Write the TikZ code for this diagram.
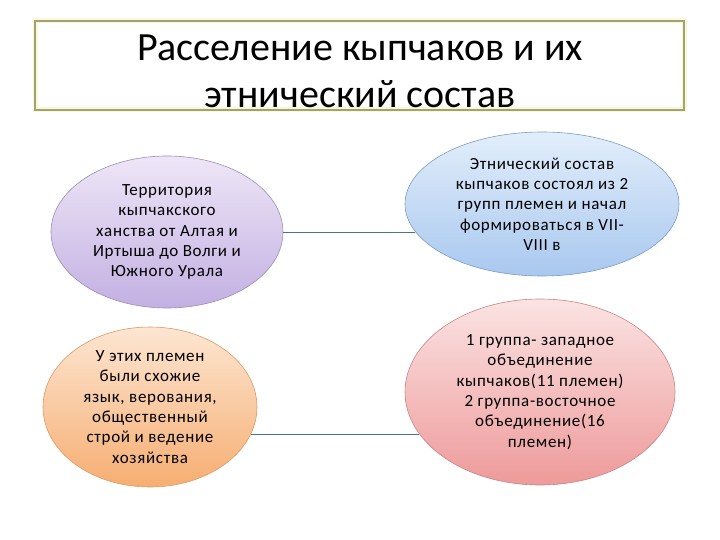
\documentclass[tikz,border=0pt]{standalone}
\usepackage{fontspec}
\setmainfont{Carlito}[LetterSpace=4]
\usepackage{tikz}
\usetikzlibrary{shapes.geometric}
\definecolor{olivebox}{HTML}{A3A46C}
\definecolor{glowbox}{HTML}{F8F8DC}
\definecolor{linkteal}{HTML}{4A7489}
\definecolor{lilacT}{HTML}{EEE6F7}
\definecolor{lilacB}{HTML}{C2B0E2}
\definecolor{lilacD}{HTML}{9C8DB4}
\definecolor{skyT}{HTML}{E2EEFB}
\definecolor{skyB}{HTML}{A9C8EF}
\definecolor{skyD}{HTML}{7C9CC4}
\definecolor{apricotT}{HTML}{FDE6D2}
\definecolor{apricotB}{HTML}{F6AE72}
\definecolor{apricotD}{HTML}{D99A66}
\definecolor{roseT}{HTML}{FBE3E3}
\definecolor{roseB}{HTML}{EE9A9A}
\definecolor{roseD}{HTML}{C98484}
\newfontfamily\titlefont{Carlito}

\begin{document}
\begin{tikzpicture}[x=1pt,y=-1pt,font=\fontsize{17}{20.3}\selectfont,
  blob/.style={ellipse,draw,line width=0.6pt,align=center,inner sep=0pt},
  link/.style={draw=linkteal,line width=0.8pt}]
\useasboundingbox (0,0) rectangle (720,540);
% title
\draw[draw=glowbox,line width=5pt] (35,21) rectangle (684,110);
\draw[draw=olivebox,line width=2.4pt] (35,21) rectangle (684,110);
\node[align=center,font=\titlefont\fontsize{40}{47}\selectfont] (title) at (360,71)
  {Расселение кыпчаков и их\\этнический состав};
% four ellipses
\node[blob,draw=lilacD,top color=lilacT,bottom color=lilacB,
  minimum width=232pt,minimum height=152pt] (terr) at (167,232)
  {Территория\\кыпчакского\\ханства от Алтая и\\Иртыша до Волги и\\Южного Урала};
\node[blob,draw=skyD,top color=skyT,bottom color=skyB,
  minimum width=274pt,minimum height=144pt] (ethn) at (542,204)
  {Этнический состав\\кыпчаков состоял из 2\\групп племен и начал\\формироваться в VII-\\VIII в};
\node[blob,draw=apricotD,top color=apricotT,bottom color=apricotB,
  minimum width=214pt,minimum height=160pt] (lang) at (150,407)
  {У этих племен\\были схожие\\язык, верования,\\общественный\\строй и ведение\\хозяйства};
\node[blob,draw=roseD,top color=roseT,bottom color=roseB,
  minimum width=270pt,minimum height=186pt] (tribes) at (540,392)
  {1 группа- западное\\объединение\\кыпчаков(11 племен)\\2 группа-восточное\\объединение(16\\племен)};
% connectors
\draw[link] (terr.east) -- (terr.east -| ethn.192);
\draw[link] (lang.345) -- (lang.345 -| tribes.199);
\end{tikzpicture}
\end{document}
